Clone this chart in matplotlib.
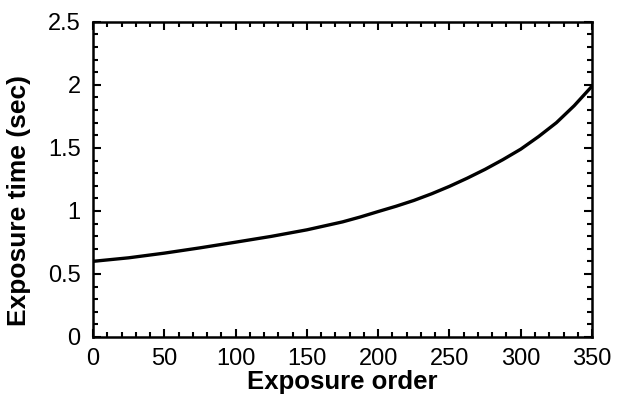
import numpy as np
import matplotlib.pyplot as plt
from matplotlib.ticker import MultipleLocator

# values
order = [0, 25, 50, 75, 100, 125, 150, 175, 187.5, 200, 212.5, 225, 237.5,
         250, 262.5, 275, 287.5, 300, 312.5, 325, 337.5, 350]
exposure = [0.60, 0.628, 0.665, 0.707, 0.752, 0.798, 0.850, 0.913, 0.952,
            0.995, 1.037, 1.083, 1.136, 1.195, 1.26, 1.33, 1.407, 1.49,
            1.59, 1.70, 1.835, 1.99]

plt.rcParams['font.family'] = ['Liberation Sans', 'DejaVu Sans']

fig = plt.figure(figsize=(6.18, 4.05), dpi=100)
ax = fig.add_axes([0.1505, 0.168, 0.8075, 0.778])

ax.plot(order, exposure, color='black', linewidth=2.4,
        solid_joinstyle='round', solid_capstyle='round')

ax.set_xlim(0, 350)
ax.set_ylim(0, 2.5)
ax.xaxis.set_major_locator(MultipleLocator(50))
ax.xaxis.set_minor_locator(MultipleLocator(10))
ax.yaxis.set_minor_locator(MultipleLocator(0.1))
ax.set_yticks([0, 0.5, 1, 1.5, 2, 2.5])
ax.set_yticklabels(['0', '0.5', '1', '1.5', '2', '2.5'])

ax.tick_params(which='both', direction='in', top=True, right=True,
               width=1.5, labelsize=17)
ax.tick_params(axis='x', pad=8)
ax.tick_params(axis='y', pad=9)
ax.tick_params(which='major', length=6)
ax.tick_params(which='minor', length=3.5)
for s in ax.spines.values():
    s.set_linewidth(1.8)

ax.set_xlabel('Exposure order', fontsize=18.5, fontweight='bold', labelpad=0)
ax.set_ylabel('Exposure time (sec)', fontsize=19, fontweight='bold')
ax.yaxis.label.set_va('center')
ax.yaxis.set_label_coords(-0.148, 0.432)

fig.savefig('out.png', dpi=100)
